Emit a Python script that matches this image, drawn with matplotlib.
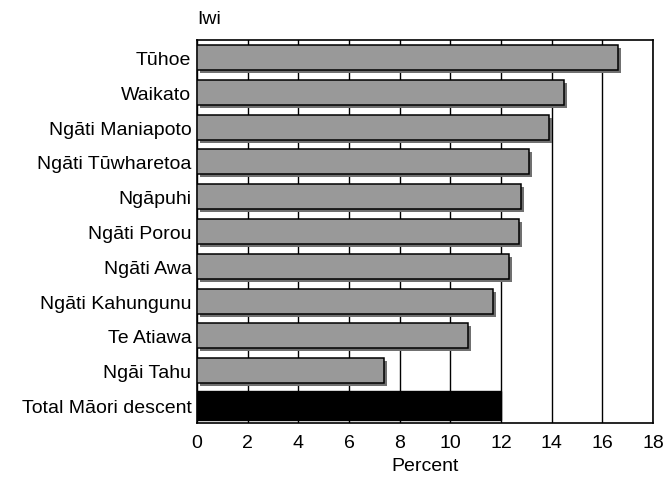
import matplotlib
matplotlib.use('Agg')
import matplotlib.pyplot as plt
import matplotlib.transforms as mtransforms

plt.rcParams['font.family'] = ['Liberation Sans', 'DejaVu Sans']

iwi = ['Tūhoe', 'Waikato', 'Ngāti Maniapoto', 'Ngāti Tūwharetoa', 'Ngāpuhi',
       'Ngāti Porou', 'Ngāti Awa', 'Ngāti Kahungunu', 'Te Atiawa', 'Ngāi Tahu']
percent = [16.6, 14.5, 13.9, 13.1, 12.8, 12.7, 12.3, 11.7, 10.7, 7.4]
total_label = 'Total Māori descent'
total_value = 12.0
xticks = list(range(0, 19, 2))

FS = 14


def main():
    fig = plt.figure(figsize=(6.69, 4.81), dpi=100)
    ax = fig.add_axes([197 / 669, 1 - 424 / 481, 456 / 669, 383 / 481])

    labels = iwi + [total_label]
    n = len(labels)
    ypos = list(range(n - 1, 0, -1))

    # drop shadow behind the grey bars
    shadow = mtransforms.offset_copy(ax.transData, fig=fig, x=3, y=-3, units='dots')
    ax.barh(ypos, percent, height=0.72, color='#707070', edgecolor='none',
            transform=shadow, zorder=2)
    ax.barh(ypos, percent, height=0.72, color='#999999', edgecolor='black',
            linewidth=1.1, zorder=3)
    ax.barh([0], [total_value], height=0.84, color='black', edgecolor='black',
            linewidth=1, zorder=3)

    ax.set_xlim(0, 18)
    ax.set_ylim(-0.5, n - 0.5)
    ax.set_xticks(xticks)
    ax.set_yticks(range(n))
    ax.set_yticklabels(labels[::-1], fontsize=FS)
    ax.tick_params(axis='both', length=0, labelsize=FS)
    ax.tick_params(axis='x', pad=8)
    ax.tick_params(axis='y', pad=4)
    ax.xaxis.grid(True, color='black', linewidth=1)
    ax.set_axisbelow(True)
    for s in ax.spines.values():
        s.set_linewidth(1.2)

    ax.set_xlabel('Percent', fontsize=FS, labelpad=4)
    fig.text(197 / 669, 1 - 19 / 481, 'Iwi', fontsize=FS, va='center', ha='left')

    fig.savefig('out.png', dpi=100)


if __name__ == '__main__':
    main()
